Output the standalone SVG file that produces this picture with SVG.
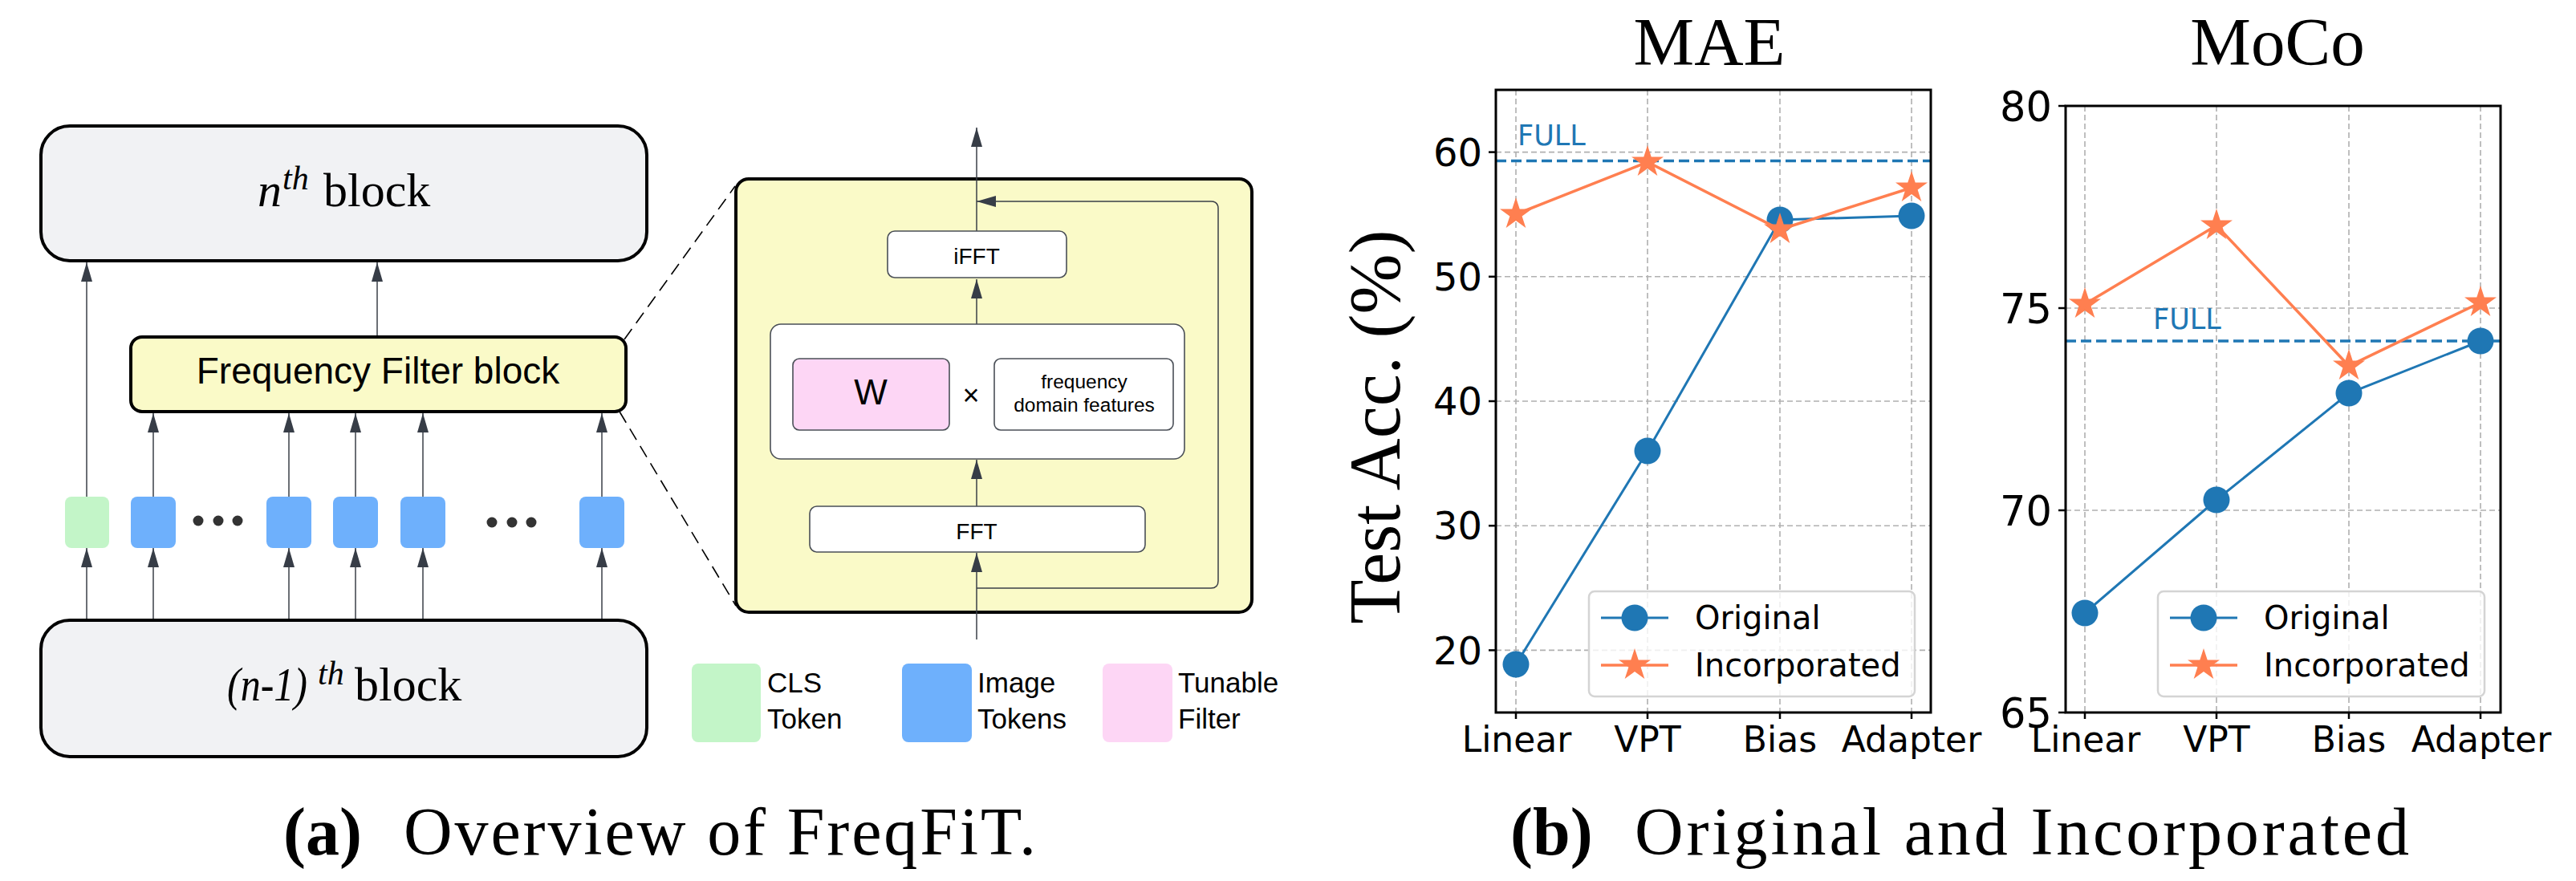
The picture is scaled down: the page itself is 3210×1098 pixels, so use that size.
<svg xmlns="http://www.w3.org/2000/svg" width="3210" height="1098" viewBox="0 0 3210 1098">
<style>
.serif{font-family:"Liberation Serif","Times New Roman",serif;fill:#000}
.sans{font-family:"Liberation Sans",Arial,sans-serif;fill:#000}
.dj{font-family:"DejaVu Sans",Verdana,sans-serif;fill:#000}
.blk{fill:#f1f2f4;stroke:#000;stroke-width:4}
.yel{fill:#fafac8;stroke:#000;stroke-width:4}
.wbox{fill:#fff;stroke:#4a4f57;stroke-width:1.6}
.conn{stroke:#3a3f47;stroke-width:1.5;fill:none;marker-end:url(#ah)}
.zoomdash{stroke:#000;stroke-width:1.6;stroke-dasharray:16,9;fill:none}
.grid{stroke:#b0b0b0;stroke-width:1.6;stroke-dasharray:7,4;fill:none}
.full{stroke:#1f77b4;stroke-width:3.5;stroke-dasharray:13,6;fill:none}
.spine{fill:none;stroke:#000;stroke-width:3}
.tick{stroke:#000;stroke-width:2.5}
.lblue{stroke:#1f77b4;stroke-width:3;fill:none}
.lorg{stroke:#ff7f50;stroke-width:3.5;fill:none}
.cb{fill:#1f77b4}
.st{fill:#ff7f50}
.leg{fill:#fff;fill-opacity:0.8;stroke:#d4d4d4;stroke-width:2.5}
</style>
<defs>
<marker id="ah" viewBox="0 0 24 14" refX="24" refY="7" markerWidth="24" markerHeight="14" markerUnits="userSpaceOnUse" orient="auto">
<path d="M0,0 L24,7 L0,14 z" fill="#373d47"/>
</marker>
<path id="star" d="M0,-21 L4.71,-6.49 L19.97,-6.49 L7.63,2.48 L12.34,16.99 L0,8.02 L-12.34,16.99 L-7.63,2.48 L-19.97,-6.49 L-4.71,-6.49 Z"/>
</defs>
<rect width="3210" height="1098" fill="#fff"/>

<!-- ===== Panel (a) ===== -->
<g id="connectors">
<line class="conn" x1="108" y1="773" x2="108" y2="683"/>
<line class="conn" x1="191" y1="773" x2="191" y2="683"/>
<line class="conn" x1="360" y1="773" x2="360" y2="683"/>
<line class="conn" x1="443" y1="773" x2="443" y2="683"/>
<line class="conn" x1="527" y1="773" x2="527" y2="683"/>
<line class="conn" x1="750" y1="773" x2="750" y2="683"/>
<line class="conn" x1="108" y1="619" x2="108" y2="327"/>
<line class="conn" x1="191" y1="619" x2="191" y2="515"/>
<line class="conn" x1="360" y1="619" x2="360" y2="515"/>
<line class="conn" x1="443" y1="619" x2="443" y2="515"/>
<line class="conn" x1="527" y1="619" x2="527" y2="515"/>
<line class="conn" x1="750" y1="619" x2="750" y2="515"/>
<line class="conn" x1="470" y1="420" x2="470" y2="327"/>
<line class="zoomdash" x1="778" y1="423" x2="916" y2="232"/>
<line class="zoomdash" x1="772" y1="513" x2="917" y2="755"/>
</g>

<g id="nth-block">
<rect class="blk" x="51" y="157" width="755" height="168" rx="36"/>
<text class="serif" font-size="60" font-style="italic" x="321" y="257">n</text>
<text class="serif" font-size="42" font-style="italic" x="352" y="236">th</text>
<text class="serif" font-size="60" x="403" y="257">block</text>
</g>

<g id="freq-filter-block">
<rect class="yel" x="163" y="420" width="617" height="93" rx="14"/>
<text class="sans" font-size="46" x="471" y="478" text-anchor="middle">Frequency Filter block</text>
</g>

<g id="tokens">
<rect x="81" y="619" width="55" height="64" rx="8" fill="#c3f5c8"/>
<rect x="163" y="619" width="56" height="64" rx="8" fill="#6eb0fc"/>
<rect x="332" y="619" width="56" height="64" rx="8" fill="#6eb0fc"/>
<rect x="415" y="619" width="56" height="64" rx="8" fill="#6eb0fc"/>
<rect x="499" y="619" width="56" height="64" rx="8" fill="#6eb0fc"/>
<rect x="722" y="619" width="56" height="64" rx="8" fill="#6eb0fc"/>
<g fill="#333">
<circle cx="247" cy="649" r="6.5"/><circle cx="272" cy="649" r="6.5"/><circle cx="296" cy="649" r="6.5"/>
<circle cx="613" cy="651" r="6.5"/><circle cx="638" cy="651" r="6.5"/><circle cx="662" cy="651" r="6.5"/>
</g>
</g>

<g id="prev-block">
<rect class="blk" x="51" y="773" width="755" height="170" rx="36"/>
<text class="serif" font-size="60" font-style="italic" x="283" y="873" textLength="100" lengthAdjust="spacingAndGlyphs">(n-1)</text>
<text class="serif" font-size="42" font-style="italic" x="396" y="853">th</text>
<text class="serif" font-size="60" x="442" y="873">block</text>
</g>

<g id="zoom-box">
<rect class="yel" x="917" y="223" width="643" height="540" rx="16" stroke-width="3.5"/>
<g id="zoom-connectors">
<line class="conn" x1="1217" y1="797" x2="1217" y2="689"/>
<line class="conn" x1="1217" y1="631" x2="1217" y2="573"/>
<line class="conn" x1="1217" y1="404" x2="1217" y2="348"/>
<line class="conn" x1="1217" y1="288" x2="1217" y2="159"/>
<path class="conn" d="M1217,733 H1509 Q1518,733 1518,724 V260 Q1518,251 1509,251 H1217"/>
</g>
<g id="fft">
<rect class="wbox" x="1009" y="631" width="418" height="57" rx="9"/>
<text class="sans" font-size="28" x="1217" y="672" text-anchor="middle">FFT</text>
</g>
<g id="multiply">
<rect class="wbox" x="960" y="404" width="516" height="168" rx="13"/>
<g id="w-filter">
<rect x="988" y="447" width="195" height="89" rx="8" fill="#fdd6f5" stroke="#4a4f57" stroke-width="1.6"/>
<text class="sans" font-size="44" x="1085" y="504" text-anchor="middle">W</text>
</g>
<text class="sans" font-size="36" x="1210" y="505" text-anchor="middle">×</text>
<g id="freq-features">
<rect class="wbox" x="1239" y="447" width="223" height="89" rx="8"/>
<text class="sans" font-size="24.5" x="1351" y="484" text-anchor="middle">frequency</text>
<text class="sans" font-size="24.5" x="1351" y="513" text-anchor="middle">domain features</text>
</g>
</g>
<g id="ifft">
<rect class="wbox" x="1106" y="288" width="223" height="58" rx="9"/>
<text class="sans" font-size="28" x="1217" y="329" text-anchor="middle">iFFT</text>
</g>
</g>

<g id="legend-a">
<rect x="862" y="827" width="86" height="98" rx="8" fill="#c3f5c8"/>
<text class="sans" font-size="35" x="956" y="863">CLS</text>
<text class="sans" font-size="35" x="956" y="908">Token</text>
<rect x="1124" y="827" width="87" height="98" rx="8" fill="#6eb0fc"/>
<text class="sans" font-size="35" x="1218" y="863">Image</text>
<text class="sans" font-size="35" x="1218" y="908">Tokens</text>
<rect x="1374" y="827" width="87" height="98" rx="8" fill="#fdd6f5"/>
<text class="sans" font-size="35" x="1468" y="863">Tunable</text>
<text class="sans" font-size="35" x="1468" y="908">Filter</text>
</g>

<!-- ===== Panel (b): MAE ===== -->
<g id="chart-mae">
<text class="serif" font-size="85" x="2130" y="81" text-anchor="middle">MAE</text>
<text class="serif" font-size="90" transform="translate(1744,532) rotate(-90)" text-anchor="middle">Test Acc. (%)</text>
<g>
<line class="grid" x1="1889" y1="112" x2="1889" y2="888"/>
<line class="grid" x1="2053" y1="112" x2="2053" y2="888"/>
<line class="grid" x1="2218" y1="112" x2="2218" y2="888"/>
<line class="grid" x1="2382" y1="112" x2="2382" y2="888"/>
<line class="grid" x1="1864" y1="189.6" x2="2406" y2="189.6"/>
<line class="grid" x1="1864" y1="344.8" x2="2406" y2="344.8"/>
<line class="grid" x1="1864" y1="500" x2="2406" y2="500"/>
<line class="grid" x1="1864" y1="655.2" x2="2406" y2="655.2"/>
<line class="grid" x1="1864" y1="810.4" x2="2406" y2="810.4"/>
</g>
<line class="full" x1="1864" y1="200.6" x2="2406" y2="200.6"/>
<text class="dj" font-size="35" x="1891" y="181" style="fill:#1f77b4">FULL</text>
<polyline class="lblue" points="1889,828 2053,562 2218,274 2382,269"/>
<circle class="cb" cx="1889" cy="828" r="16.5"/>
<circle class="cb" cx="2053" cy="562" r="16.5"/>
<circle class="cb" cx="2218" cy="274" r="16.5"/>
<circle class="cb" cx="2382" cy="269" r="16.5"/>
<polyline class="lorg" points="1889,267 2053,202 2218,286 2382,234"/>
<use href="#star" class="st" x="1889" y="267"/>
<use href="#star" class="st" x="2053" y="202"/>
<use href="#star" class="st" x="2218" y="286"/>
<use href="#star" class="st" x="2382" y="234"/>
<rect class="spine" x="1864" y="112" width="542" height="776"/>
<g>
<line class="tick" x1="1855" y1="189.6" x2="1864" y2="189.6"/>
<line class="tick" x1="1855" y1="344.8" x2="1864" y2="344.8"/>
<line class="tick" x1="1855" y1="500" x2="1864" y2="500"/>
<line class="tick" x1="1855" y1="655.2" x2="1864" y2="655.2"/>
<line class="tick" x1="1855" y1="810.4" x2="1864" y2="810.4"/>
<line class="tick" x1="1889" y1="888" x2="1889" y2="896"/>
<line class="tick" x1="2053" y1="888" x2="2053" y2="896"/>
<line class="tick" x1="2218" y1="888" x2="2218" y2="896"/>
<line class="tick" x1="2382" y1="888" x2="2382" y2="896"/>
</g>
<g class="dj" font-size="48" text-anchor="end">
<text x="1847" y="207">60</text>
<text x="1847" y="362">50</text>
<text x="1847" y="517">40</text>
<text x="1847" y="672">30</text>
<text x="1847" y="828">20</text>
</g>
<g class="dj" font-size="44" text-anchor="middle">
<text x="1890" y="937">Linear</text>
<text x="2053" y="937">VPT</text>
<text x="2218" y="937">Bias</text>
<text x="2382" y="937">Adapter</text>
</g>
<g id="legend-mae">
<rect class="leg" x="1980" y="737" width="406" height="131" rx="7"/>
<line x1="1995" y1="770" x2="2079" y2="770" stroke="#1f77b4" stroke-width="3"/>
<circle class="cb" cx="2037" cy="770" r="16.5"/>
<line x1="1995" y1="829" x2="2079" y2="829" stroke="#ff7f50" stroke-width="3.5"/>
<use href="#star" class="st" x="2037" y="829"/>
<text class="dj" font-size="40" x="2112" y="784">Original</text>
<text class="dj" font-size="40" x="2112" y="843">Incorporated</text>
</g>
</g>

<!-- ===== Panel (b): MoCo ===== -->
<g id="chart-moco">
<text class="serif" font-size="85" x="2838" y="81" text-anchor="middle">MoCo</text>
<g>
<line class="grid" x1="2598" y1="132" x2="2598" y2="888"/>
<line class="grid" x1="2762" y1="132" x2="2762" y2="888"/>
<line class="grid" x1="2927" y1="132" x2="2927" y2="888"/>
<line class="grid" x1="3091" y1="132" x2="3091" y2="888"/>
<line class="grid" x1="2574" y1="384" x2="3116" y2="384"/>
<line class="grid" x1="2574" y1="636" x2="3116" y2="636"/>
</g>
<line class="full" x1="2574" y1="425" x2="3116" y2="425"/>
<text class="dj" font-size="35" x="2683" y="410" style="fill:#1f77b4">FULL</text>
<polyline class="lblue" points="2598,764 2762,623 2927,490 3091,425"/>
<circle class="cb" cx="2598" cy="764" r="16.5"/>
<circle class="cb" cx="2762" cy="623" r="16.5"/>
<circle class="cb" cx="2927" cy="490" r="16.5"/>
<circle class="cb" cx="3091" cy="425" r="16.5"/>
<polyline class="lorg" points="2598,379 2762,281 2927,456 3091,377"/>
<use href="#star" class="st" x="2598" y="379"/>
<use href="#star" class="st" x="2762" y="281"/>
<use href="#star" class="st" x="2927" y="456"/>
<use href="#star" class="st" x="3091" y="377"/>
<rect class="spine" x="2574" y="132" width="542" height="756"/>
<g>
<line class="tick" x1="2565" y1="132" x2="2574" y2="132"/>
<line class="tick" x1="2565" y1="384" x2="2574" y2="384"/>
<line class="tick" x1="2565" y1="636" x2="2574" y2="636"/>
<line class="tick" x1="2565" y1="888" x2="2574" y2="888"/>
<line class="tick" x1="2598" y1="888" x2="2598" y2="896"/>
<line class="tick" x1="2762" y1="888" x2="2762" y2="896"/>
<line class="tick" x1="2927" y1="888" x2="2927" y2="896"/>
<line class="tick" x1="3091" y1="888" x2="3091" y2="896"/>
</g>
<g class="dj" font-size="51" text-anchor="end">
<text x="2557" y="151">80</text>
<text x="2557" y="403">75</text>
<text x="2557" y="655">70</text>
<text x="2557" y="907">65</text>
</g>
<g class="dj" font-size="44" text-anchor="middle">
<text x="2599" y="937">Linear</text>
<text x="2762" y="937">VPT</text>
<text x="2927" y="937">Bias</text>
<text x="3092" y="937">Adapter</text>
</g>
<g id="legend-moco">
<rect class="leg" x="2689" y="737" width="407" height="131" rx="7"/>
<line x1="2704" y1="770" x2="2788" y2="770" stroke="#1f77b4" stroke-width="3"/>
<circle class="cb" cx="2746" cy="770" r="16.5"/>
<line x1="2704" y1="829" x2="2788" y2="829" stroke="#ff7f50" stroke-width="3.5"/>
<use href="#star" class="st" x="2746" y="829"/>
<text class="dj" font-size="40" x="2821" y="784">Original</text>
<text class="dj" font-size="40" x="2821" y="843">Incorporated</text>
</g>
</g>

<!-- ===== Captions ===== -->
<g id="captions">
<text class="serif" font-size="84" font-weight="bold" x="353" y="1065">(a)</text>
<text class="serif" font-size="84" x="503" y="1065" textLength="788" lengthAdjust="spacing">Overview of FreqFiT.</text>
<text class="serif" font-size="84" font-weight="bold" x="1882" y="1065">(b)</text>
<text class="serif" font-size="84" x="2037" y="1065" textLength="965" lengthAdjust="spacing">Original and Incorporated</text>
</g>
</svg>
